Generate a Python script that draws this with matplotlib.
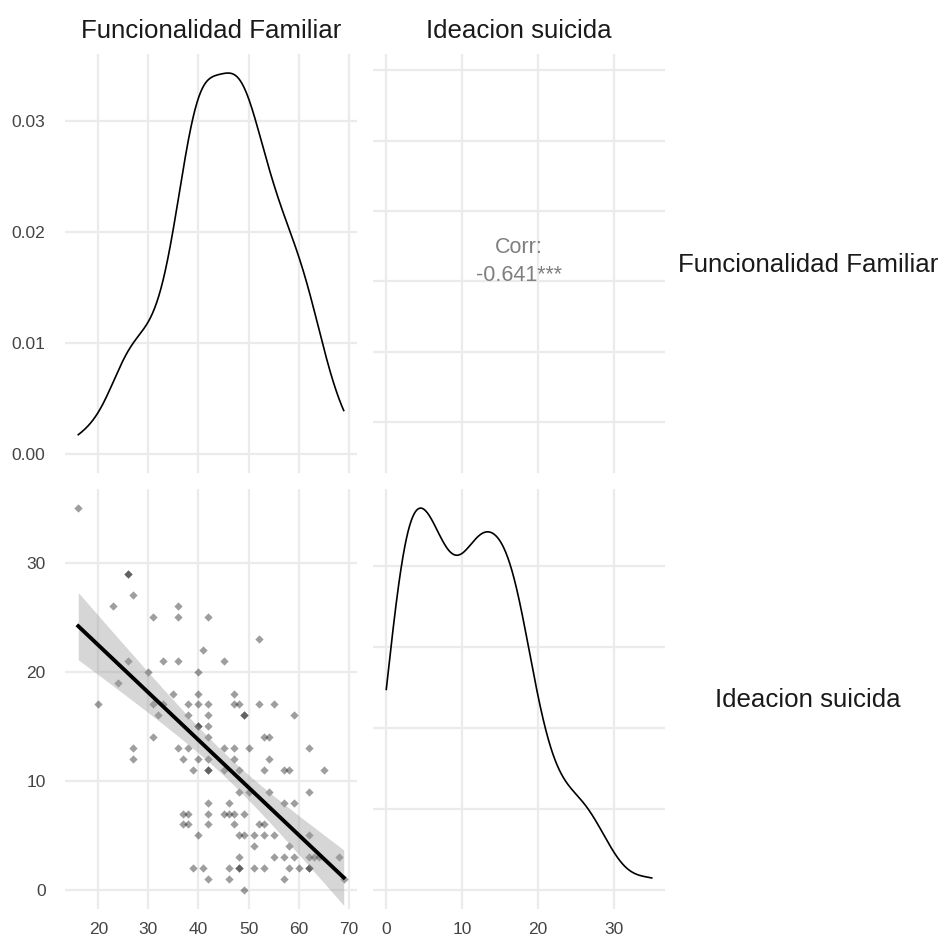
import matplotlib.pyplot as plt
import numpy as np

plt.rcParams['font.family'] = ['Liberation Sans', 'DejaVu Sans']

# variables of the pairs plot
var_names = ['Funcionalidad Familiar', 'Ideacion suicida']

funcionalidad = [
    16,
    26, 26,
    27,
    23, 36,
    31, 36, 42,
    52,
    41,
    26, 33, 36, 45,
    30, 40,
    24,
    35, 40, 47,
    20, 31, 33, 38, 40, 42, 47, 48, 52, 55,
    32, 38, 42, 49, 49, 59,
    40, 40, 42,
    31, 42, 53, 54,
    27, 36, 38, 45, 47, 50, 62,
    27, 37, 40, 42, 47, 54,
    39, 42, 42, 45, 48, 53, 57, 58, 65,
    48, 50, 54, 62,
    42, 46, 57, 59,
    37, 38, 42, 45, 46, 47, 49,
    37, 38, 42, 47, 52, 53,
    40, 48, 49, 51, 53, 55, 62,
    51, 58,
    48, 55, 57, 59, 62, 63, 64, 68,
    39, 41, 46, 48, 48, 51, 53, 58, 60, 62, 62,
    42, 46, 57, 69,
    49,
]
ideacion = [
    35,
    29, 29,
    27,
    26, 26,
    25, 25, 25,
    23,
    22,
    21, 21, 21, 21,
    20, 20,
    19,
    18, 18, 18,
    17, 17, 17, 17, 17, 17, 17, 17, 17, 17,
    16, 16, 16, 16, 16, 16,
    15, 15, 15,
    14, 14, 14, 14,
    13, 13, 13, 13, 13, 13, 13,
    12, 12, 12, 12, 12, 12,
    11, 11, 11, 11, 11, 11, 11, 11, 11,
    9, 9, 9, 9,
    8, 8, 8, 8,
    7, 7, 7, 7, 7, 7, 7,
    6, 6, 6, 6, 6, 6,
    5, 5, 5, 5, 5, 5, 5,
    4, 4,
    3, 3, 3, 3, 3, 3, 3, 3,
    2, 2, 2, 2, 2, 2, 2, 2, 2, 2, 2,
    1, 1, 1, 1,
    0,
]
corr_text = 'Corr:\n-0.641***'

# tick breaks
func_ticks = [20, 30, 40, 50, 60, 70]
idea_ticks = [0, 10, 20, 30]
dens1_ticks = [0.00, 0.01, 0.02, 0.03]
dens2_ticks = [0.00, 0.01, 0.02, 0.03, 0.04]

x_f = np.array(funcionalidad, float)
y_i = np.array(ideacion, float)


def kde_nrd0(v, n_grid=512):
    sd = v.std(ddof=1)
    q75, q25 = np.percentile(v, [75, 25])
    bw = 0.9 * min(sd, (q75 - q25) / 1.34) * len(v) ** -0.2
    grid = np.linspace(v.min(), v.max(), n_grid)
    z = (grid[:, None] - v[None, :]) / bw
    dens = np.exp(-0.5 * z ** 2).sum(axis=1) / (len(v) * bw * np.sqrt(2 * np.pi))
    return grid, dens


def expand(lo, hi, mult=0.05):
    d = (hi - lo) * mult
    return lo - d, hi + d


W, H = 941, 944
fig = plt.figure(figsize=(W / 100, H / 100), dpi=100)
cols = [(65, 357), (373, 665)]
rows = [(54, 473), (489, 909)]


def panel(c, r):
    x0, x1 = cols[c]
    y0, y1 = rows[r]
    ax = fig.add_axes([x0 / W, 1 - y1 / H, (x1 - x0) / W, (y1 - y0) / H])
    for s in ax.spines.values():
        s.set_visible(False)
    ax.set_axisbelow(True)
    ax.grid(True, color='#EBEBEB', lw=1.6)
    ax.tick_params(length=0, labelsize=12.5, labelcolor='#444444',
                   labelbottom=False, labelleft=False)
    ax.tick_params(axis='y', pad=14)
    ax.tick_params(axis='x', pad=9)
    return ax


xlim_f = expand(x_f.min(), x_f.max())
xlim_i = expand(y_i.min(), y_i.max())

# top-left: density of Funcionalidad Familiar
ax11 = panel(0, 0)
gx, gd = kde_nrd0(x_f)
ax11.plot(gx, gd, color='black', lw=1.2)
ax11.set_xlim(xlim_f)
ax11.set_ylim(expand(0, gd.max()))
ax11.set_xticks(func_ticks)
ax11.set_yticks(dens1_ticks)
ax11.set_yticklabels([f'{t:.2f}' for t in dens1_ticks])
ax11.tick_params(labelleft=True)

# top-right: correlation text
ax12 = panel(1, 0)
ax12.set_xlim(xlim_i)
ax12.set_ylim(12.8, 72.3)
ax12.set_xticks(idea_ticks)
ax12.set_yticks(func_ticks)
ax12.text(0.5, 0.505, corr_text, transform=ax12.transAxes, ha='center',
          va='center', fontsize=15.5, color='#7F7F7F', linespacing=1.45)

# bottom-left: scatter with linear fit
ax21 = panel(0, 1)
ax21.scatter(x_f, y_i, marker='D', s=18, color='black', alpha=0.38,
             linewidths=0, zorder=3)
n = len(x_f)
slope, intercept = np.polyfit(x_f, y_i, 1)
xs = np.linspace(x_f.min(), x_f.max(), 80)
fit = intercept + slope * xs
resid = y_i - (intercept + slope * x_f)
s_err = np.sqrt((resid ** 2).sum() / (n - 2))
sxx = ((x_f - x_f.mean()) ** 2).sum()
se = s_err * np.sqrt(1 / n + (xs - x_f.mean()) ** 2 / sxx)
z = 1.959964
df = n - 2
t_crit = z + (z ** 3 + z) / (4 * df) + (5 * z ** 5 + 16 * z ** 3 + 3 * z) / (96 * df ** 2)
ax21.fill_between(xs, fit - t_crit * se, fit + t_crit * se, color='#999999',
                  alpha=0.4, lw=0, zorder=4)
ax21.plot(xs, fit, color='black', lw=2.8, zorder=5)
ax21.set_xlim(xlim_f)
ax21.set_ylim(xlim_i)
ax21.set_xticks(func_ticks)
ax21.set_yticks(idea_ticks)
ax21.tick_params(labelleft=True, labelbottom=True)

# bottom-right: density of Ideacion suicida
ax22 = panel(1, 1)
ix, idn = kde_nrd0(y_i)
ax22.plot(ix, idn, color='black', lw=1.2)
ax22.set_xlim(xlim_i)
ax22.set_ylim(expand(0, idn.max()))
ax22.set_xticks(idea_ticks)
ax22.set_yticks(dens2_ticks)
ax22.tick_params(labelbottom=True)

# strip labels
strip_kw = dict(fontsize=18.6, color='#1A1A1A', ha='center', va='center')
for c, name in enumerate(var_names):
    xc = (cols[c][0] + cols[c][1]) / 2
    fig.text(xc / W, 1 - 31 / H, name, **strip_kw)
for r, name in enumerate(var_names):
    yc = (rows[r][0] + rows[r][1]) / 2
    fig.text(808 / W, 1 - (yc + 1) / H, name, **strip_kw)

fig.savefig('out.png', dpi=100, facecolor='white')
